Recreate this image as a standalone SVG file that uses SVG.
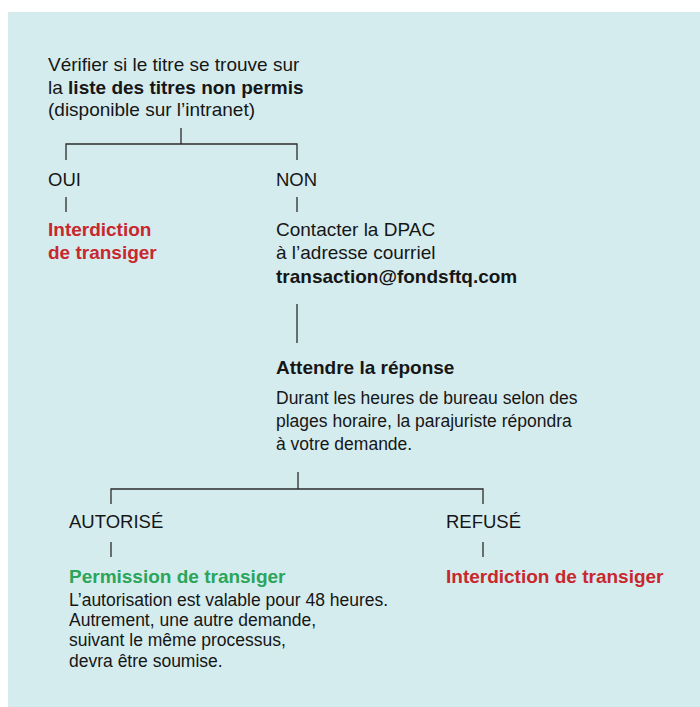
<svg xmlns="http://www.w3.org/2000/svg" width="700" height="707" viewBox="0 0 700 707">
<style>
text{font-family:"Liberation Sans",Arial,sans-serif;font-size:19px;fill:#161616}
.lbl{font-size:18.5px}
.d{font-size:17.5px}
.b{font-weight:bold;font-size:19px}
.red{fill:#c8282d;font-weight:bold;font-size:19px}
.green{fill:#2aa55a;font-weight:bold;font-size:19px}
.c{fill:none;stroke:#2b2b2b;stroke-width:1.3}
</style>
<rect x="8" y="12" width="692" height="695" fill="#d5ecef"/>
<g id="connectors">
<path class="c" d="M181 128V144M66 160V144H297V160"/>
<path class="c" d="M66 197V212M297 197V212"/>
<path class="c" d="M297 304V343"/>
<path class="c" d="M298 472V489M111 504V489H483V504"/>
<path class="c" d="M111 542V557M483 542V557"/>
</g>
<g id="verifier">
<text x="48" y="71">Vérifier si le titre se trouve sur</text>
<text x="48" y="93.5">la <tspan class="b">liste des titres non permis</tspan></text>
<text x="48" y="116">(disponible sur l’intranet)</text>
</g>
<g id="oui"><text class="lbl" x="48" y="185.5">OUI</text></g>
<g id="non"><text class="lbl" x="276" y="185.5">NON</text></g>
<g id="interdiction1">
<text class="red" x="48" y="236">Interdiction</text>
<text class="red" x="48" y="258.5">de transiger</text>
</g>
<g id="contacter">
<text x="276" y="236">Contacter la DPAC</text>
<text x="276" y="259">à l’adresse courriel</text>
<text class="b" x="276" y="282.5">transaction@fondsftq.com</text>
</g>
<g id="attendre">
<text class="b" x="276" y="374">Attendre la réponse</text>
<text class="d" x="276" y="404">Durant les heures de bureau selon des</text>
<text class="d" x="276" y="427">plages horaire, la parajuriste répondra</text>
<text class="d" x="276" y="449.5">à votre demande.</text>
</g>
<g id="autorise"><text class="lbl" x="69" y="528">AUTORISÉ</text></g>
<g id="refuse"><text class="lbl" x="446" y="528">REFUSÉ</text></g>
<g id="permission">
<text class="green" x="69" y="583">Permission de transiger</text>
<text class="d" x="69" y="605.5">L’autorisation est valable pour 48 heures.</text>
<text class="d" x="69" y="626">Autrement, une autre demande,</text>
<text class="d" x="69" y="646">suivant le même processus,</text>
<text class="d" x="69" y="666.5">devra être soumise.</text>
</g>
<g id="interdiction2"><text class="red" x="446" y="583">Interdiction de transiger</text></g>
</svg>
